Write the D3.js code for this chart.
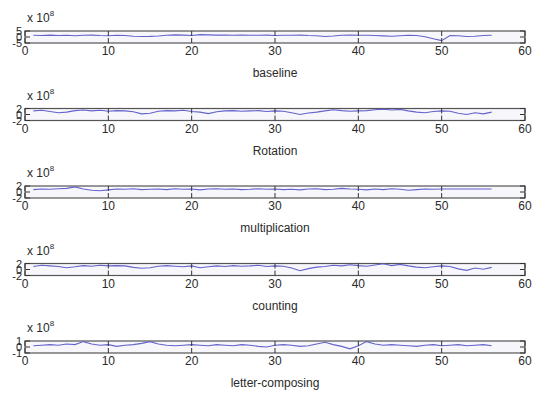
<!DOCTYPE html>
<html>
<head>
<meta charset="utf-8">
<script src="https://cdn.jsdelivr.net/npm/d3@7"></script>
<style>
  html, body { margin: 0; padding: 0; background: #fff; }
  svg { display: block; }
  text { font-family: "Liberation Sans", Arial, sans-serif; fill: #2a2a2a; }
</style>
</head>
<body>
<svg id="chart" width="533" height="393"></svg>
<script>
// Signal traces per task condition (values in units of 1e8), sample index 1..56
const conditions = ["baseline", "Rotation", "multiplication", "counting", "letter-composing"];
const xTicks = [0, 10, 20, 30, 40, 50, 60];
const yLimits = [5, 2, 2, 2, 1];

const baseline = [1.5,1.2,1.6,1.3,1.5,1.1,1.4,1.6,1.2,1.0, 1.4,1.2,0.6,0.4,0.5,0.8,1.5,1.8,1.6,1.2,
  2.0,1.8,1.6,1.7,1.5,1.6,1.4,1.5,1.6,1.3, 1.5,1.4,1.6,1.2,1.0,0.4,0.8,1.4,1.6,1.5,
  1.4,1.2,0.9,0.6,1.0,1.5,1.2,0.2,-1.5,-3.0, 1.2,1.0,0.4,0.6,1.2,1.5];
const rotation = [1.2,1.4,1.0,0.6,0.8,1.3,1.5,1.2,1.4,1.1, 1.3,1.2,0.9,0.2,0.4,1.1,1.3,1.2,1.4,1.0,
  0.8,0.3,0.9,1.2,1.3,1.1,1.2,1.3,1.0,1.2, 1.1,0.6,0.0,0.5,0.8,1.2,1.6,1.3,1.1,1.2,
  1.3,1.6,1.8,1.5,1.7,1.2,0.8,0.6,1.0,1.2, 1.1,0.4,0.0,0.6,0.2,0.8];
const multiplication = [0.8,1.0,0.9,1.1,1.2,1.7,1.0,0.6,0.4,0.7, 1.0,0.9,1.1,0.8,0.9,1.0,0.8,1.1,0.9,1.0,
  0.7,1.0,1.1,0.9,1.0,0.8,0.9,1.1,0.9,1.0, 0.8,0.9,0.7,1.0,1.1,0.8,0.9,1.2,1.0,0.9,
  0.7,1.0,0.8,1.1,0.9,0.6,0.8,1.0,0.9,1.0, 1.0,1.0,1.0,1.0,1.0,1.0];
const counting = [1.0,1.4,1.2,1.0,0.6,0.9,1.3,1.1,1.4,1.2, 1.3,1.2,0.7,0.4,0.6,1.1,1.3,1.1,0.9,1.2,
  0.6,0.9,1.2,1.0,1.3,1.1,1.2,1.4,1.0,1.2, 1.1,0.5,-0.4,0.3,0.8,1.0,1.4,1.2,1.6,1.3,
  1.1,1.5,1.9,1.3,1.7,1.2,0.8,0.6,0.9,1.2, 1.0,0.2,-0.3,0.5,0.1,0.7];
const letterComposing = [0.2,0.3,0.4,0.3,0.5,0.4,0.9,0.5,0.3,0.4, 0.1,0.3,0.4,0.6,0.9,0.5,0.3,0.2,0.3,0.4,
  0.3,0.2,0.4,0.3,0.2,0.4,0.3,0.1,0.0,0.3, 0.4,0.3,0.1,0.2,0.5,0.8,0.4,0.1,-0.3,0.2,
  0.9,0.5,0.3,0.4,0.3,0.2,0.1,0.3,0.4,0.2, 0.3,0.4,0.2,0.3,0.4,0.2];
const series = [baseline, rotation, multiplication, counting, letterComposing];

const svg = d3.select("#chart");
const left = 25, right = 525, boxH = 12, tickLen = 5;
const x = d3.scaleLinear().domain([0, 60]).range([left, right]);

conditions.forEach((name, i) => {
  const top = 31 + i * 77.5;
  const lim = yLimits[i];
  const y = d3.scaleLinear().domain([-lim, lim]).range([top + boxH, top]);
  const g = svg.append("g");

  // axes box
  g.append("rect").attr("x", left).attr("y", top)
    .attr("width", right - left).attr("height", boxH)
    .attr("fill", "#f6f6fb").attr("stroke", "#555").attr("stroke-width", 1.2);

  // trace
  const line = d3.line().x((d, k) => x(k + 1)).y(d => y(d));
  g.append("path").datum(series[i]).attr("d", line)
    .attr("fill", "none").attr("stroke", "#6464cc").attr("stroke-width", 1.1);

  // x ticks, inward from bottom and top
  xTicks.forEach(t => {
    g.append("line").attr("x1", x(t)).attr("x2", x(t))
      .attr("y1", top + boxH).attr("y2", top + boxH - tickLen)
      .attr("stroke", "#333");
    g.append("line").attr("x1", x(t)).attr("x2", x(t))
      .attr("y1", top).attr("y2", top + tickLen)
      .attr("stroke", "#333");
  });
  g.selectAll(".xl").data(xTicks).enter().append("text")
    .attr("x", d => x(d)).attr("y", top + boxH + 12)
    .attr("text-anchor", "middle").attr("font-size", 12)
    .text(d => d);

  // y ticks, inward on both sides
  const yTicks = [-lim, 0, lim];
  yTicks.forEach(t => {
    g.append("line").attr("x1", left).attr("x2", left + tickLen)
      .attr("y1", y(t)).attr("y2", y(t)).attr("stroke", "#333");
    g.append("line").attr("x1", right).attr("x2", right - tickLen)
      .attr("y1", y(t)).attr("y2", y(t)).attr("stroke", "#333");
  });
  g.selectAll(".yl").data(yTicks).enter().append("text")
    .attr("x", left - 3).attr("y", d => y(d) + 4)
    .attr("text-anchor", "end").attr("font-size", 11)
    .text(d => d);

  // exponent label
  const ex = g.append("text").attr("x", 27).attr("y", top - 9).attr("font-size", 12);
  ex.append("tspan").text("x 10");
  ex.append("tspan").attr("dy", -6).attr("font-size", 8).text("8");

  // condition label
  g.append("text").attr("x", (left + right) / 2).attr("y", top + boxH + 34)
    .attr("text-anchor", "middle").attr("font-size", 12).text(name);
});
</script>
</body>
</html>
